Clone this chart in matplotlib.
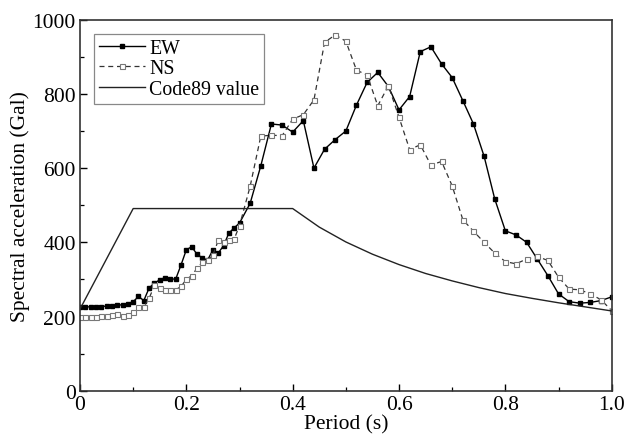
import matplotlib
matplotlib.use("Agg")
import matplotlib.pyplot as plt
import numpy as np

#response spectra: EW, NS records vs Code89 design value
period = [0.00, 0.01, 0.02, 0.03, 0.04, 0.05, 0.06, 0.07, 0.08, 0.09,
          0.10, 0.11, 0.12, 0.13, 0.14, 0.15, 0.16, 0.17, 0.18, 0.19,
          0.20, 0.21, 0.22, 0.23, 0.24, 0.25, 0.26, 0.27, 0.28, 0.29,
          0.30, 0.32, 0.34, 0.36, 0.38, 0.40, 0.42, 0.44, 0.46, 0.48,
          0.50, 0.52, 0.54, 0.56, 0.58, 0.60, 0.62, 0.64, 0.66, 0.68,
          0.70, 0.72, 0.74, 0.76, 0.78, 0.80, 0.82, 0.84, 0.86, 0.88,
          0.90, 0.92, 0.94, 0.96, 0.98, 1.00]

ew = [226, 226, 226, 227, 227, 228, 229, 230, 232, 235,
      240, 254, 243, 277, 290, 299, 305, 301, 301, 339,
      380, 388, 368, 358, 352, 380, 371, 391, 425, 439,
      452, 505, 606, 719, 716, 697, 728, 600, 651, 677,
      700, 770, 831, 858, 820, 757, 793, 914, 927, 881,
      844, 782, 719, 632, 517, 431, 420, 400, 355, 310,
      261, 240, 236, 238, 243, 253]

ns = [199, 199, 199, 200, 201, 202, 204, 207, 201, 204,
      211, 225, 226, 249, 284, 278, 272, 272, 272, 281,
      300, 310, 330, 346, 353, 366, 405, 400, 407, 409,
      445, 551, 686, 689, 687, 732, 744, 784, 939, 959,
      942, 864, 851, 768, 822, 737, 650, 663, 608, 618,
      552, 461, 430, 400, 371, 348, 342, 355, 362, 351,
      306, 274, 272, 261, 245, 216]

code_period = [0.0, 0.1, 0.4, 0.45, 0.5, 0.55, 0.6, 0.65, 0.7, 0.75,
               0.8, 0.85, 0.9, 0.95, 1.0]
code_value = [220, 491, 491, 441, 401, 368, 340, 316, 296, 278,
              262, 249, 237, 226, 215]

plt.rcParams['font.family'] = ['Liberation Serif', 'DejaVu Serif']
plt.rcParams['mathtext.fontset'] = 'stix'

fig = plt.figure(figsize=(6.27, 4.39), dpi=100)
ax = fig.add_axes([0.1276, 0.1077, 0.848, 0.8451])

ax.plot(period, ew, '-', color='black', lw=1.0, marker='s', ms=3.2,
        mfc='black', mec='black', label='EW')
ax.plot(period, ns, '--', color='#333333', lw=0.9, dashes=(4, 3), marker='s', ms=3.6,
        mfc='white', mec='#777777', mew=0.8, label='NS')
ax.plot(code_period, code_value, '-', color='#222222', lw=1.0, label='Code89 value')

ax.set_xlim(0, 1.0)
ax.set_ylim(0, 1000)
ax.set_xticks(np.arange(0, 1.01, 0.2))
ax.set_xticklabels(['0', '0.2', '0.4', '0.6', '0.8', '1.0'])
ax.set_xticks(np.arange(0.1, 1.0, 0.2), minor=True)
ax.set_yticks(np.arange(0, 1001, 200))
ax.set_yticks(np.arange(100, 1000, 200), minor=True)

ax.tick_params(which='both', direction='in', top=False, right=False, labelsize=15.5, pad=3)
ax.tick_params(which='major', length=5, width=1.0)
ax.tick_params(which='minor', length=3, width=0.9)
for s in ax.spines.values():
    s.set_linewidth(1.2)
    s.set_color('#333333')

ax.set_xlabel('Period (s)', fontsize=15.5, labelpad=0)
ax.set_ylabel('Spectral acceleration (Gal)', fontsize=15.5, labelpad=2)

leg = ax.legend(loc='upper left', bbox_to_anchor=(0.027, 0.962), fontsize=14.3, numpoints=1,
                fancybox=False, edgecolor='#888888', framealpha=1, handlelength=2.3,
                labelspacing=0.08, borderpad=0.25, handletextpad=0.2, borderaxespad=0)
leg.get_frame().set_linewidth(0.9)

fig.savefig('out.png', dpi=100)
